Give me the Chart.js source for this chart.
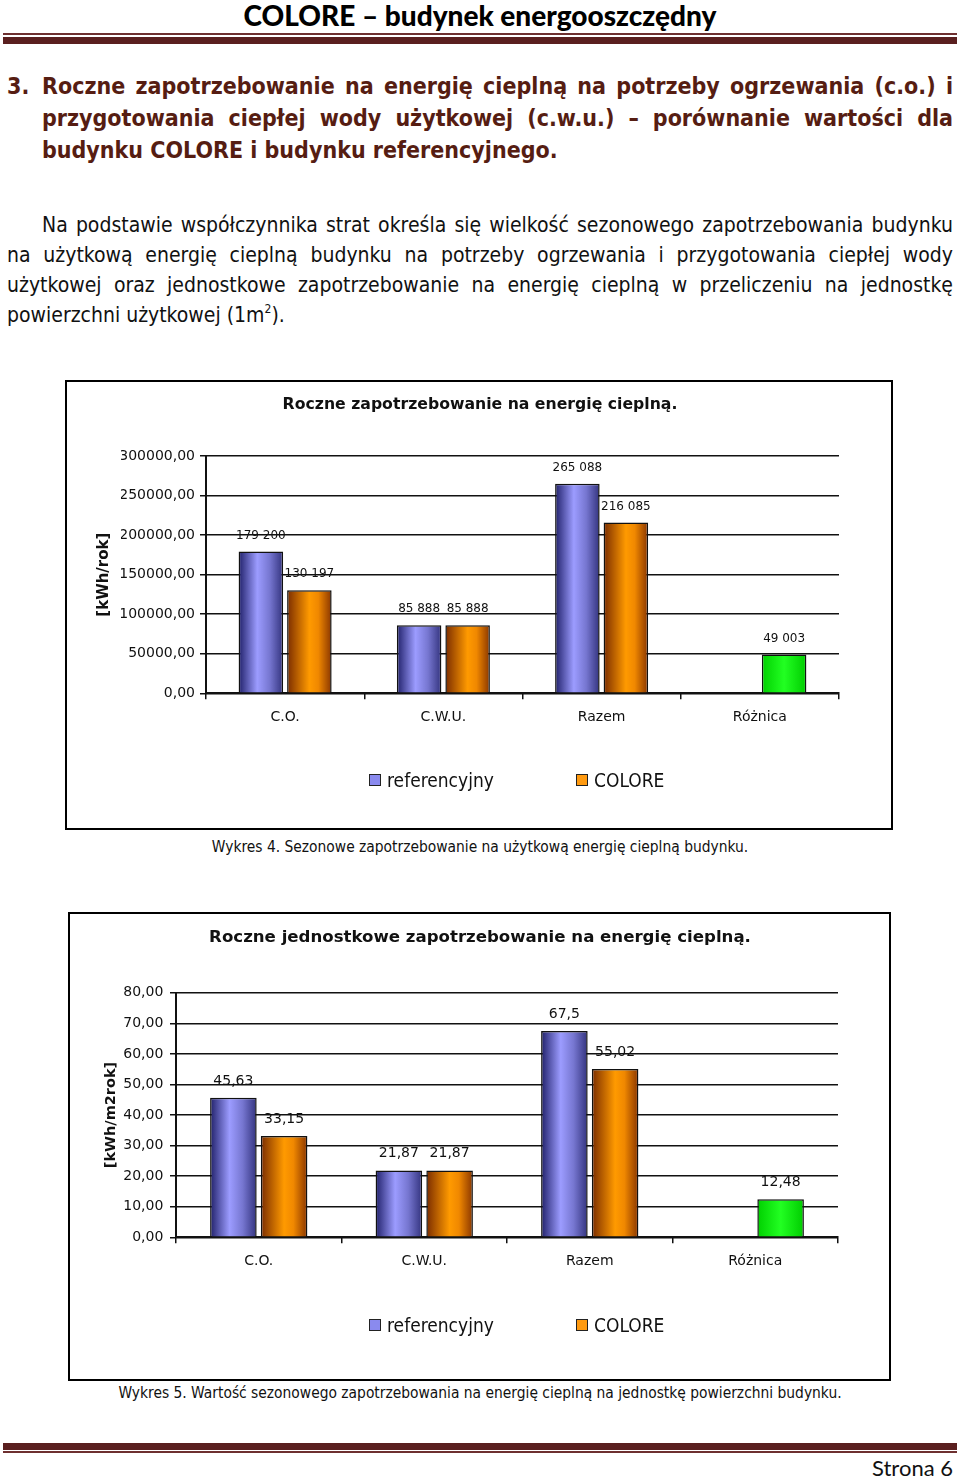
<!DOCTYPE html>
<html><head><meta charset="utf-8">
<script src="https://cdn.jsdelivr.net/npm/chart.js@4/dist/chart.umd.min.js"></script>
<style>
html,body{margin:0;padding:0;background:#fff;}
body{width:960px;height:1480px;position:relative;overflow:hidden;font-family:"DejaVu Sans Condensed","DejaVu Sans",sans-serif;font-stretch:condensed;color:#111;}
.abs{position:absolute;white-space:nowrap;}
.hdr{left:0;width:960px;top:0;text-align:center;font-family:Lato,"Open Sans",sans-serif;font-weight:900;font-size:28px;line-height:30px;color:#000;}
.rule{position:absolute;left:3px;width:954px;}
.h3{color:#561d12;font-weight:bold;font-size:23px;line-height:32px;}
.p{font-size:21px;line-height:30px;color:#111;}
.j{text-align:justify;text-align-last:justify;}
.box{position:absolute;border:2px solid #000;box-sizing:border-box;}
.cv{position:absolute;}
.cap{font-size:15.4px;line-height:20px;text-align:center;left:0;width:960px;}
.lg{position:absolute;height:24px;line-height:24px;font-size:19px;white-space:nowrap;}
.sw{position:absolute;left:0;top:6px;width:10px;height:10px;border:1px solid #222;}
.lt{position:absolute;left:18px;top:0;}
.foot{right:7px;top:1454px;font-family:Lato,"Open Sans",sans-serif;font-size:22px;line-height:28px;}
sup{font-size:12px;line-height:0;vertical-align:9px;}
</style>
</head>
<body>
<div class="abs hdr">COLORE – budynek energooszczędny</div>
<div class="rule" style="top:33px;height:2px;background:#6e3030;"></div>
<div class="rule" style="top:37px;height:7px;background:#5a1f1f;"></div>

<div class="abs h3" style="left:7px;top:70px;">3.</div>
<div class="abs h3 j" style="left:42px;width:911px;top:70px;">Roczne zapotrzebowanie na energię cieplną na potrzeby ogrzewania (c.o.) i</div>
<div class="abs h3 j" style="left:42px;width:911px;top:102px;">przygotowania ciepłej wody użytkowej (c.w.u.) – porównanie wartości dla</div>
<div class="abs h3" style="left:42px;top:134px;">budynku COLORE i budynku referencyjnego.</div>

<div class="abs p j" style="left:42px;width:911px;top:210px;">Na podstawie współczynnika strat określa się wielkość sezonowego zapotrzebowania budynku</div>
<div class="abs p j" style="left:7px;width:946px;top:240px;">na użytkową energię cieplną budynku na potrzeby ogrzewania i przygotowania ciepłej wody</div>
<div class="abs p j" style="left:7px;width:946px;top:270px;">użytkowej oraz jednostkowe zapotrzebowanie na energię cieplną w przeliczeniu na jednostkę</div>
<div class="abs p" style="left:7px;top:300px;">powierzchni użytkowej (1m<sup>2</sup>).</div>

<div class="box" style="left:65px;top:380px;width:828px;height:450px;"></div>
<canvas id="c1" class="cv" width="824" height="446" style="left:67px;top:382px;"></canvas>
<div id="lg1"></div>
<div class="abs cap" style="top:837px;">Wykres 4. Sezonowe zapotrzebowanie na użytkową energię cieplną budynku.</div>

<div class="box" style="left:68px;top:912px;width:823px;height:469px;"></div>
<canvas id="c2" class="cv" width="819" height="465" style="left:70px;top:914px;"></canvas>
<div id="lg2"></div>
<div class="abs cap" style="top:1383px;">Wykres 5. Wartość sezonowego zapotrzebowania na energię cieplną na jednostkę powierzchni budynku.</div>

<div class="rule" style="top:1443px;height:7px;background:#5a1f1f;"></div>
<div class="rule" style="top:1451px;height:2px;background:#6e3030;"></div>
<div class="abs foot">Strona 6</div>

<script>
// ---- data ----
const categories = ['C.O.', 'C.W.U.', 'Razem', 'Różnica'];
const seriesNames = ['referencyjny', 'COLORE'];
const annualReference = [179200, 85888, 265088, null];
const annualColore = [130197, 85888, 216085, 49003];
const unitReference = [45.63, 21.87, 67.5, null];
const unitColore = [33.15, 21.87, 55.02, 12.48];
const annualAxis = {min: 0, max: 300000, step: 50000};
const unitAxis = {min: 0, max: 80, step: 10};
const chartTitles = ['Roczne zapotrzebowanie na energię cieplną.', 'Roczne jednostkowe zapotrzebowanie na energię cieplną.'];
const axisTitles = ['[kWh/rok]', '[kWh/m2rok]'];
const differenceCategory = 'Różnica';

// ---- styles ----
const FONT = 'DejaVu Sans';
const shades = {
  blue:   {base: '#8a8aee', stops: [[0, '#20206a'], [0.42, '#9c9cff'], [0.7, '#7676d0'], [1, '#33337e']]},
  orange: {base: '#ff9a10', stops: [[0, '#7a2c00'], [0.5, '#ff9a00'], [0.7, '#f08800'], [1, '#8a3600']]},
  green:  {base: '#11ee11', stops: [[0, '#00d000'], [0.5, '#22ff22'], [1, '#00cc00']]}
};

const barGradient = {
  id: 'barGradient',
  beforeDatasetsDraw(chart) {
    const ctx = chart.ctx;
    chart.data.datasets.forEach((ds, i) => {
      const meta = chart.getDatasetMeta(i);
      meta.data.forEach((el, j) => {
        const {x, width} = el.getProps(['x', 'width'], true);
        if (!isFinite(x) || !isFinite(width)) return;
        const sh = shades[ds.shadeOf(j)];
        const g = ctx.createLinearGradient(x - width / 2, 0, x + width / 2, 0);
        sh.stops.forEach(([o, c]) => g.addColorStop(o, c));
        el.options = Object.assign({}, el.options, {backgroundColor: g});
      });
    });
  }
};

const valueLabels = {
  id: 'valueLabels',
  afterDatasetsDraw(chart, args, opts) {
    const ctx = chart.ctx;
    ctx.save();
    ctx.font = opts.size + 'px "' + FONT + '"';
    ctx.fillStyle = '#111';
    ctx.textAlign = 'center';
    ctx.textBaseline = 'middle';
    chart.data.datasets.forEach((ds, i) => {
      const meta = chart.getDatasetMeta(i);
      meta.data.forEach((el, j) => {
        const v = ds.data[j];
        if (v === null || v === undefined) return;
        ctx.fillText(opts.format(v), el.x, el.y - opts.offset);
      });
    });
    ctx.restore();
  }
};

function shadeFn(seriesIdx) {
  return j => (seriesIdx === 1 && categories[j] === differenceCategory) ? 'green' : (seriesIdx === 0 ? 'blue' : 'orange');
}

function buildChart(canvasId, refData, colData, axis, geo) {
  const datasets = [refData, colData].map((d, i) => {
    const shadeOf = shadeFn(i);
    return {
      label: seriesNames[i],
      data: d,
      shadeOf: shadeOf,
      backgroundColor: c => shades[shadeOf(c.dataIndex)].base,
      borderColor: '#111',
      borderWidth: 1.5,
      categoryPercentage: 0.613,
      barPercentage: 0.918
    };
  });
  return new Chart(document.getElementById(canvasId), {
    type: 'bar',
    data: {labels: categories, datasets: datasets},
    plugins: [barGradient, valueLabels],
    options: {
      responsive: false,
      animation: false,
      devicePixelRatio: 1,
      events: [],
      layout: {padding: geo.padding},
      plugins: {
        legend: {display: false},
        tooltip: {enabled: false},
        title: {
          display: true, text: geo.title, color: '#111',
          font: {family: FONT, size: geo.titleSize, weight: 'bold', lineHeight: 1.2},
          padding: {top: 0, bottom: geo.titleGap}
        },
        valueLabels: {size: geo.labelSize, offset: geo.labelOffset, format: geo.format}
      },
      scales: {
        x: {
          grid: {display: true, drawOnChartArea: false, drawTicks: true, tickLength: 6, color: '#111', lineWidth: 1.5, offset: true},
          border: {color: '#111', width: 2},
          ticks: {color: '#111', font: {family: FONT, size: 14}, padding: geo.xPad, maxRotation: 0, autoSkip: false},
          afterFit(s) { s.height = 40; }
        },
        y: {
          min: axis.min, max: axis.max,
          ticks: {stepSize: axis.step, color: '#111', font: {family: FONT, size: 14}, padding: geo.yPad,
                  callback: v => v.toFixed(2).replace('.', ',')},
          grid: {color: '#111', lineWidth: 1.5, tickLength: 6},
          border: {color: '#111', width: 2},
          title: {display: true, text: geo.axisTitle, color: '#111',
                  font: {family: FONT, size: geo.axisTitleSize, weight: 'bold', lineHeight: 1.2},
                  padding: {top: geo.axisTitleShift, bottom: 0}},
          afterFit(s) { s.width = geo.yWidth; }
        }
      }
    }
  });
}

function buildLegend(chart, holderId, centerY, xs) {
  const holder = document.getElementById(holderId);
  chart.data.datasets.forEach((ds, i) => {
    const item = document.createElement('div');
    item.className = 'lg';
    item.style.left = xs[i] + 'px';
    item.style.top = (centerY - 12) + 'px';
    const sw = document.createElement('span');
    sw.className = 'sw';
    sw.style.background = shades[ds.shadeOf(0)].base;
    const t = document.createElement('span');
    t.className = 'lt';
    t.textContent = ds.label;
    item.appendChild(sw); item.appendChild(t);
    holder.appendChild(item);
  });
}

const spaced = v => String(v).replace(/\B(?=(\d{3})+(?!\d))/g, ' ');
const comma = v => String(v).replace('.', ',');

const chart1 = buildChart('c1', annualReference, annualColore, annualAxis, {
  padding: {left: 54, right: 52, top: 13.6, bottom: 94.7},
  title: chartTitles[0], titleSize: 15.7, titleGap: 41.6,
  axisTitle: axisTitles[0], axisTitleSize: 15, axisTitleShift: -26,
  yWidth: 85, yPad: 5, xPad: 9.3,
  labelSize: 12, labelOffset: 16, format: spaced
});
const chart2 = buildChart('c2', unitReference, unitColore, unitAxis, {
  padding: {left: 52, right: 51, top: 14, bottom: 101.7},
  title: chartTitles[1], titleSize: 16.6, titleGap: 44.8,
  axisTitle: axisTitles[1], axisTitleSize: 14.5, axisTitleShift: -19.7,
  yWidth: 54, yPad: 6.7, xPad: 9.3,
  labelSize: 14, labelOffset: 16.7, format: comma
});
buildLegend(chart1, 'lg1', 780, [369, 576]);
buildLegend(chart2, 'lg2', 1325, [369, 576]);

// keep justified lines on one line
document.querySelectorAll('.j').forEach(el => {
  let s = parseFloat(getComputedStyle(el).fontSize);
  while (el.scrollWidth > el.clientWidth + 1 && s > 10) { s -= 0.25; el.style.fontSize = s + 'px'; }
});
</script>
</body></html>
